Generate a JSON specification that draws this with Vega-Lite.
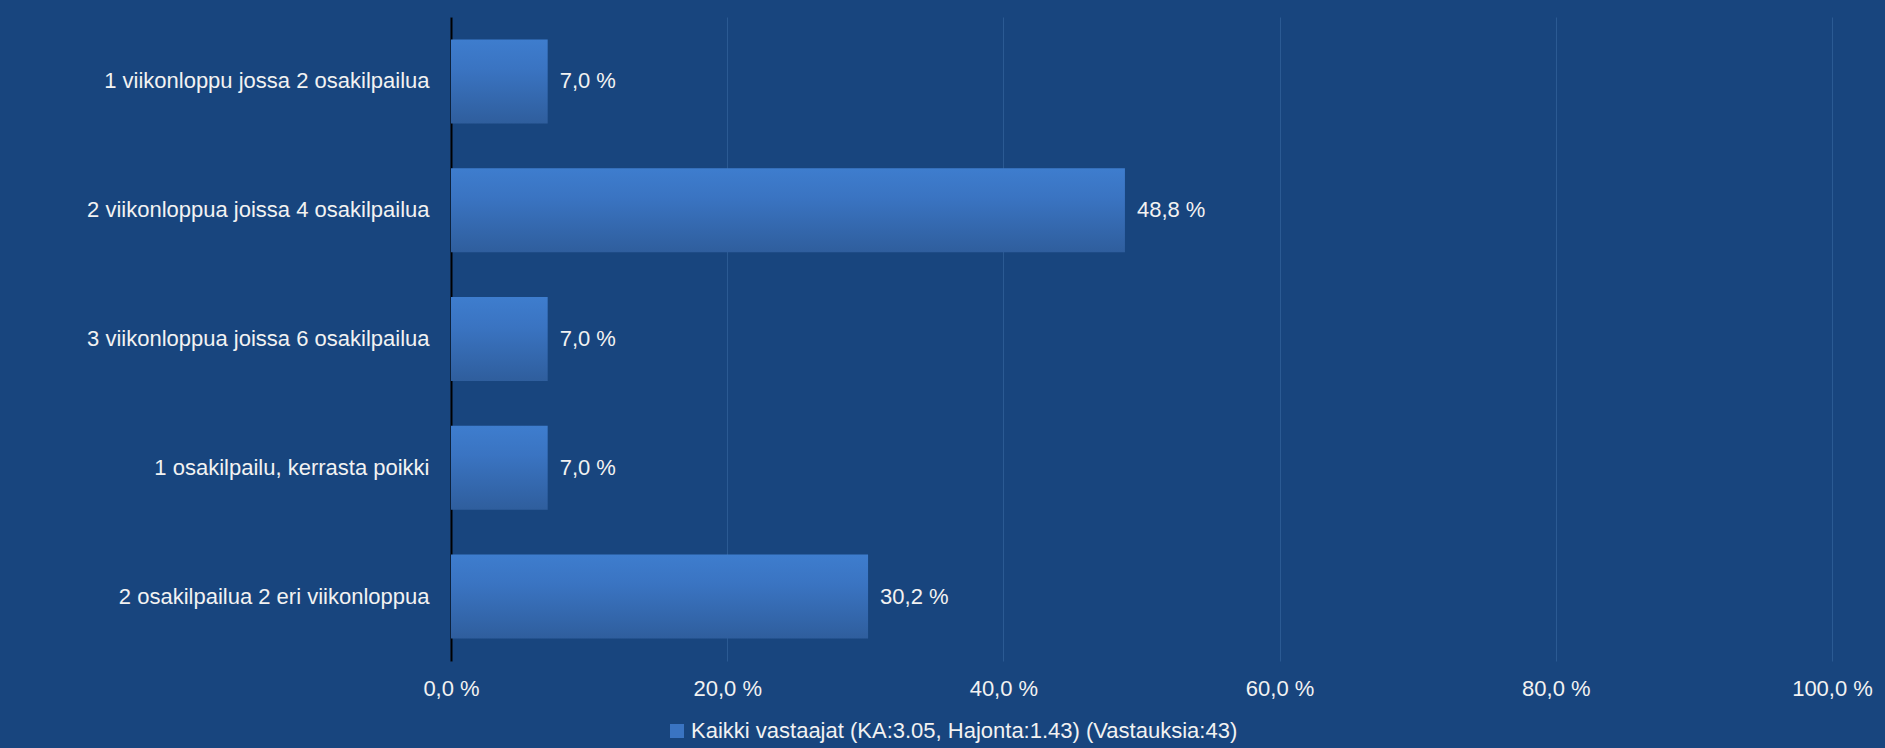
{
  "$schema": "https://vega.github.io/schema/vega-lite/v6.json",
  "width": 1381,
  "height": 644,
  "autosize": {"type": "none"},
  "padding": {"left": 451, "top": 17, "right": 53, "bottom": 87},
  "background": "#18457E",
  "config": {
    "view": {"stroke": null},
    "font": "Liberation Sans",
    "axis": {"labelFont": "Liberation Sans", "labelFontSize": 22, "labelColor": "#F2F2F2"}
  },
  "data": {
    "values": [
      {"kategoria": "1 viikonloppu jossa 2 osakilpailua", "osuus": 7.0, "sarja": "Kaikki vastaajat (KA:3.05, Hajonta:1.43) (Vastauksia:43)"},
      {"kategoria": "2 viikonloppua joissa 4 osakilpailua", "osuus": 48.8, "sarja": "Kaikki vastaajat (KA:3.05, Hajonta:1.43) (Vastauksia:43)"},
      {"kategoria": "3 viikonloppua joissa 6 osakilpailua", "osuus": 7.0, "sarja": "Kaikki vastaajat (KA:3.05, Hajonta:1.43) (Vastauksia:43)"},
      {"kategoria": "1 osakilpailu, kerrasta poikki", "osuus": 7.0, "sarja": "Kaikki vastaajat (KA:3.05, Hajonta:1.43) (Vastauksia:43)"},
      {"kategoria": "2 osakilpailua 2 eri viikonloppua", "osuus": 30.2, "sarja": "Kaikki vastaajat (KA:3.05, Hajonta:1.43) (Vastauksia:43)"}
    ]
  },
  "transform": [
    {"calculate": "replace(format(datum.osuus, '.1f'), '.', ',') + ' %'", "as": "teksti"}
  ],
  "encoding": {
    "y": {
      "field": "kategoria",
      "type": "nominal",
      "sort": null,
      "title": null,
      "scale": {"paddingInner": 0.348, "paddingOuter": 0.174},
      "axis": {
        "ticks": false,
        "domain": true,
        "domainColor": "#000000",
        "domainWidth": 2,
        "labelPadding": 22,
        "labelLimit": 450,
        "grid": false
      }
    },
    "x": {
      "field": "osuus",
      "type": "quantitative",
      "title": null,
      "scale": {"domain": [0, 100], "nice": false},
      "axis": {
        "values": [0, 20, 40, 60, 80, 100],
        "labelExpr": "replace(format(datum.value, '.1f'), '.', ',') + ' %'",
        "ticks": false,
        "domain": false,
        "grid": true,
        "gridColor": "#2B5A93",
        "gridWidth": 1,
        "labelPadding": 17,
        "labelFlush": false
      }
    }
  },
  "layer": [
    {
      "mark": {
        "type": "bar",
        "color": {
          "gradient": "linear",
          "x1": 0, "y1": 0, "x2": 0, "y2": 1,
          "stops": [
            {"offset": 0, "color": "#3E7DCE"},
            {"offset": 0.35, "color": "#3A74C2"},
            {"offset": 1, "color": "#2F5E9D"}
          ]
        }
      }
    },
    {
      "mark": {"type": "text", "align": "left", "baseline": "middle", "dx": 12, "fontSize": 22, "color": "#F2F2F2"},
      "encoding": {"text": {"field": "teksti"}}
    },
    {
      "mark": {"type": "point", "shape": "square", "filled": true, "opacity": 0},
      "encoding": {
        "color": {
          "field": "sarja",
          "type": "nominal",
          "scale": {"range": ["#3A74C2"]},
          "legend": {
            "title": null,
            "orient": "none",
            "legendX": 215,
            "legendY": 703,
            "padding": 0,
            "symbolType": "square",
            "symbolSize": 196,
            "symbolOpacity": 1,
            "symbolStrokeWidth": 0,
            "labelFontSize": 22,
            "labelColor": "#F2F2F2",
            "labelFont": "Liberation Sans",
            "labelOffset": 3,
            "labelLimit": 900
          }
        }
      }
    }
  ]
}
